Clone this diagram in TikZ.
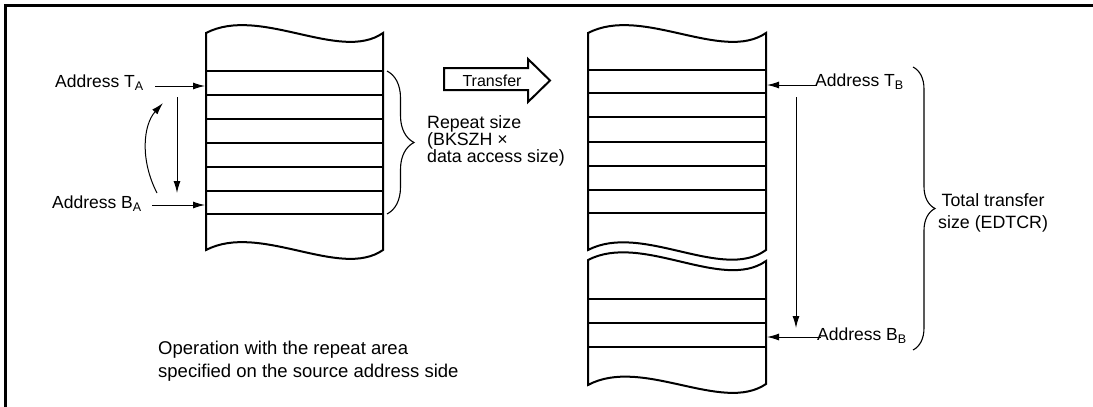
\documentclass[tikz,border=0pt]{standalone}
\usepackage{fontspec}
\setmainfont{Liberation Sans}
\usetikzlibrary{arrows.meta, decorations.pathreplacing}
\newcommand{\sub}[1]{\raisebox{-3.5pt}{\fontsize{12.5}{14}\selectfont #1}}
\tikzset{
  mem/.style={draw=black, line width=2pt, line join=miter},
  arrow/.style={-{Latex[length=12pt, width=7pt]}, line width=1pt, draw=black},
  lbl/.style={inner sep=0pt, font=\fontsize{17.5}{21}\selectfont},
  brc/.style={decorate, decoration={brace, amplitude=#1}, line width=1.1pt}
}

\begin{document}
\begin{tikzpicture}[x=1pt, y=-1pt]
\useasboundingbox (0,0) rectangle (1093,407);

% frame
\draw[line width=2.6pt] (5.3,407) -- (5.3,5.3) -- (1093,5.3);

% source area
\draw[mem] (206,33) .. controls (260,5) and (340,63) .. (383,33) -- (383,250)
  .. controls (340,280) and (260,222) .. (206,250) -- cycle;
\foreach \y in {71,95,119,143,167,191,214}
  \draw[mem] (206,\y) -- (383,\y);

% destination area
\draw[mem] (588,33) .. controls (642,5) and (722,63) .. (766,33) -- (766,250)
  .. controls (722,282) and (642,222) .. (588,250) -- cycle;
\draw[mem] (588,260) .. controls (642,232) and (722,292) .. (766,261) -- (766,384)
  .. controls (722,414) and (642,356) .. (588,385) -- cycle;
\foreach \y in {70,93,117,142,166,190,213,299,323,347}
  \draw[mem] (588,\y) -- (766,\y);

% transfer arrow
\draw[line width=2pt] (444,68) -- (528,68) -- (528,59) -- (550,80.5) -- (528,102)
  -- (528,90) -- (444,90) -- cycle;
\node[lbl, font=\fontsize{16}{18}\selectfont, anchor=base] (xfer) at (492,86) {Transfer};

% labels
\node[lbl, anchor=base west] (lblta) at (55,87) {Address T\sub{A}};
\node[lbl, anchor=base west] (lblba) at (52,208) {Address B\sub{A}};
\node[lbl, anchor=base west] (lbltb) at (815,86) {Address T\sub{B}};
\node[lbl, anchor=base west] (lblbb) at (817,340) {Address B\sub{B}};

\coordinate (ta) at (205,86);
\coordinate (ba) at (205,205);
\coordinate (tb) at (767,85);
\coordinate (bb) at (767,337);

\draw[arrow, shorten <=12pt] (lblta.east |- ta) -- (ta);
\draw[arrow, shorten <=11pt] (lblba.east |- ba) -- (ba);
\draw[arrow, shorten <=-2pt] (lbltb.west |- tb) -- (tb);
\draw[arrow, shorten <=-4pt] (lblbb.west |- bb) -- (bb);

% address progression
\coordinate (dA1) at (177,97);
\coordinate (dA2) at (177,193);
\coordinate (cA1) at (157,193);
\coordinate (cA2) at (163,103);
\coordinate (dB1) at (796,97);
\coordinate (dB2) at (796,328);
\draw[arrow] (dA1) -- (dA2);
\draw[arrow] (cA1) .. controls (140,160) and (143,125) .. (cA2);
\draw[arrow] (dB1) -- (dB2);

% sizes
\draw[brc=27pt] (387,71) -- (387,214);
\node[lbl, anchor=west, align=left, font=\fontsize{17.8}{17}\selectfont] (rep) at (427,141)
  {Repeat size\\(BKSZH ×\\data access size)};
\draw[brc=22pt] (913,67) -- (913,350);
\node[lbl, anchor=west, align=center, font=\fontsize{17.8}{21.5}\selectfont] (tot) at (938,213)
  {Total transfer\\size (EDTCR)};

\node[lbl, anchor=north west, align=left, font=\fontsize{18.5}{23}\selectfont] (note) at (158,341)
  {Operation with the repeat area\\specified on the source address side};
\end{tikzpicture}
\end{document}
